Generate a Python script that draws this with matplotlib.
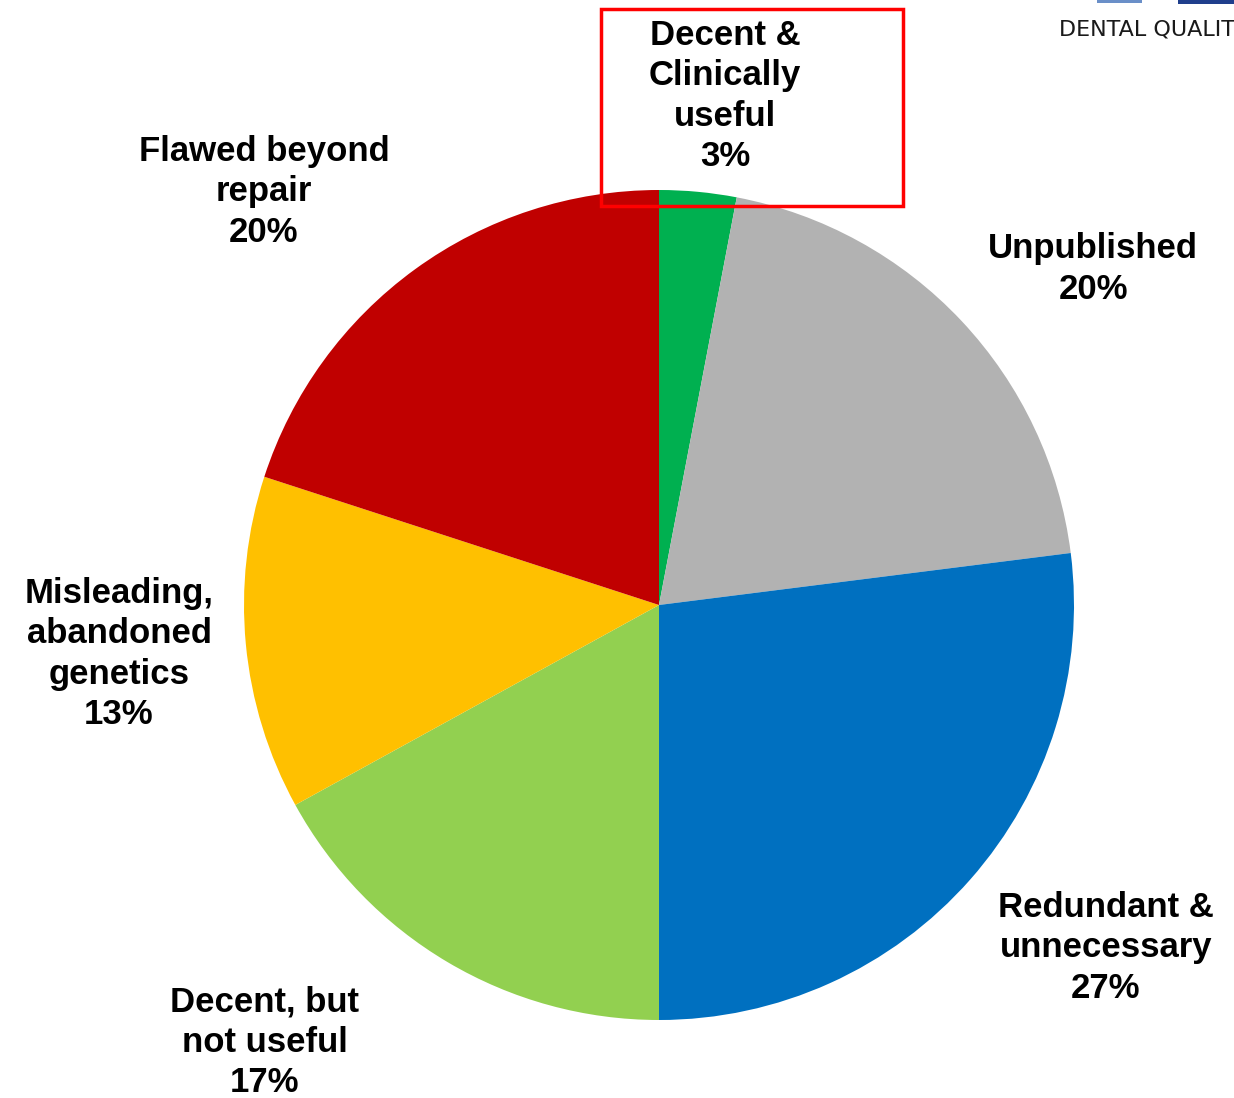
import matplotlib.pyplot as plt
from matplotlib.patches import Rectangle

labels = ["Decent &\nClinically\nuseful", "Unpublished", "Redundant &\nunnecessary",
          "Decent, but\nnot useful", "Misleading,\nabandoned\ngenetics", "Flawed beyond\nrepair"]
shares = [3, 20, 27, 17, 13, 20]
colors = ["#00B050", "#B2B2B2", "#0070C0", "#92D050", "#FFC000", "#C00000"]
# label centres in pixel space (x, y from top)
label_pos = [(725, 96), (1093, 269), (1106, 948), (265, 1042), (119, 654), (264, 192)]

W, H = 1234, 1098
fig = plt.figure(figsize=(W / 100, H / 100), dpi=100)
ax = fig.add_axes([0, 0, 1, 1])

cx, cy, r = 659, H - 605, 415
ax.pie(shares, colors=colors, startangle=90, counterclock=False,
       center=(cx, cy), radius=r, frame=True,
       wedgeprops=dict(linewidth=0))
ax.set_xlim(0, W)
ax.set_ylim(0, H)
ax.set_aspect("equal")
ax.axis("off")

for lab, val, (x, y) in zip(labels, shares, label_pos):
    ax.text(x, H - y, f"{lab}\n{val}%", ha="center", va="center",
            fontsize=25, fontweight="bold", family="Liberation Sans",
            linespacing=1.27, color="black")

# highlight box around the smallest slice
ax.add_patch(Rectangle((601, H - 206), 302, 197, fill=False,
                       edgecolor="#FF0000", linewidth=2.5, zorder=5))

# logo fragment in the corner
ax.text(1059, H - 29, "DENTAL QUALIT", ha="left", va="center",
        fontsize=16, family="DejaVu Sans", color="#1A1A1A")
ax.add_patch(Rectangle((1097, H - 3), 45, 3, color="#6A8FC8", lw=0))
ax.add_patch(Rectangle((1178, H - 4), 56, 4, color="#1F3E8C", lw=0))

fig.savefig("out.png", dpi=100)
